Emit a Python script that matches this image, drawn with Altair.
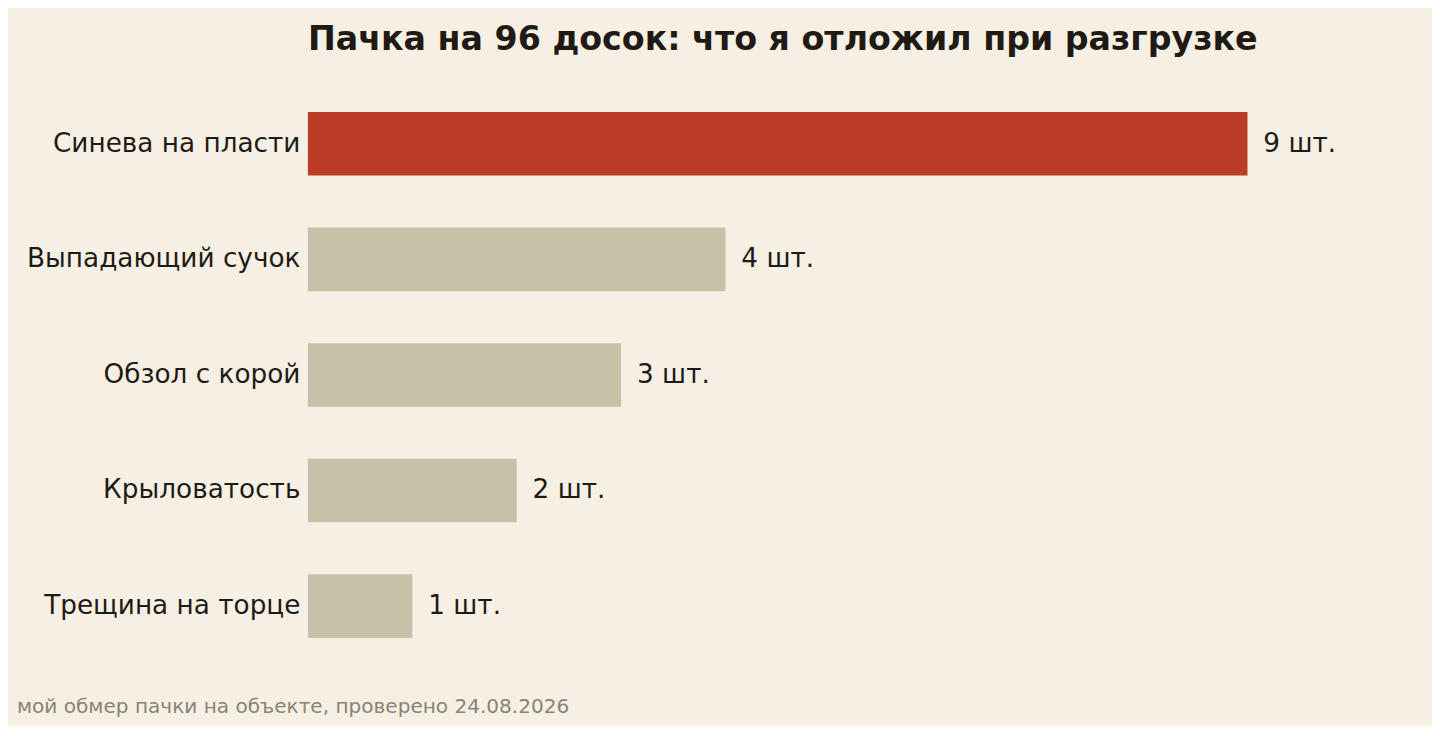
import pandas as pd
import altair as alt

# defects found in the pack, top to bottom
defects = [
    'Синева на пласти',
    'Выпадающий сучок',
    'Обзол с корой',
    'Крыловатость',
    'Трещина на торце',
]
counts = [9, 4, 3, 2, 1]
highlight = ['main', 'other', 'other', 'other', 'other']

title_text = 'Пачка на 96 досок: что я отложил при разгрузке'
note_text = 'мой обмер пачки на объекте, проверено 24.08.2026'

df = pd.DataFrame({
    'defect': defects,
    'count': counts,
    'kind': highlight,
})
df['label'] = df['count'].astype(str) + ' шт.'

W = 1127
H = 582
FONT = 'DejaVu Sans'

base = alt.Chart(df).encode(
    y=alt.Y('defect:N', sort=defects, title=None,
            scale=alt.Scale(paddingInner=0.45, paddingOuter=0.225),
            axis=alt.Axis(ticks=False, domain=False, labelFontSize=26.5,
                          labelColor='#1f1b14', labelPadding=8,
                          labelFont=FONT, labelLimit=400)),
    x=alt.X('count:Q', title=None, axis=None,
            scale=alt.Scale(domain=[0, 10.72], nice=False)),
)

bars = base.mark_bar().encode(
    color=alt.Color('kind:N', legend=None,
                    scale=alt.Scale(domain=['main', 'other'],
                                    range=['#bc3d27', '#c9c0a8'])),
)

labels = base.mark_text(align='left', baseline='middle', dx=16,
                        fontSize=26.5, font=FONT, color='#1f1b14').encode(
    text='label:N'
)

note = alt.Chart(pd.DataFrame({'t': [note_text]})).mark_text(
    align='left', baseline='alphabetic', fontSize=20.2, font=FONT,
    color='#8a8275'
).encode(
    x=alt.value(-293),
    y=alt.value(H + 49),
    text='t:N',
)

chart = alt.layer(bars, labels, note).properties(
    width=W,
    height=H,
    autosize=alt.AutoSizeParams(type='none'),
    padding={'left': 302, 'top': 76, 'right': 5, 'bottom': 60},
    background='#f6f0e4',
    title=alt.TitleParams(title_text, anchor='start', frame='group',
                          fontSize=33.5, font=FONT, fontWeight='bold',
                          color='#1f1b14', offset=29),
).configure_view(stroke=None)

chart.save("out.html", embed_options={"renderer": "svg", "actions": False})
